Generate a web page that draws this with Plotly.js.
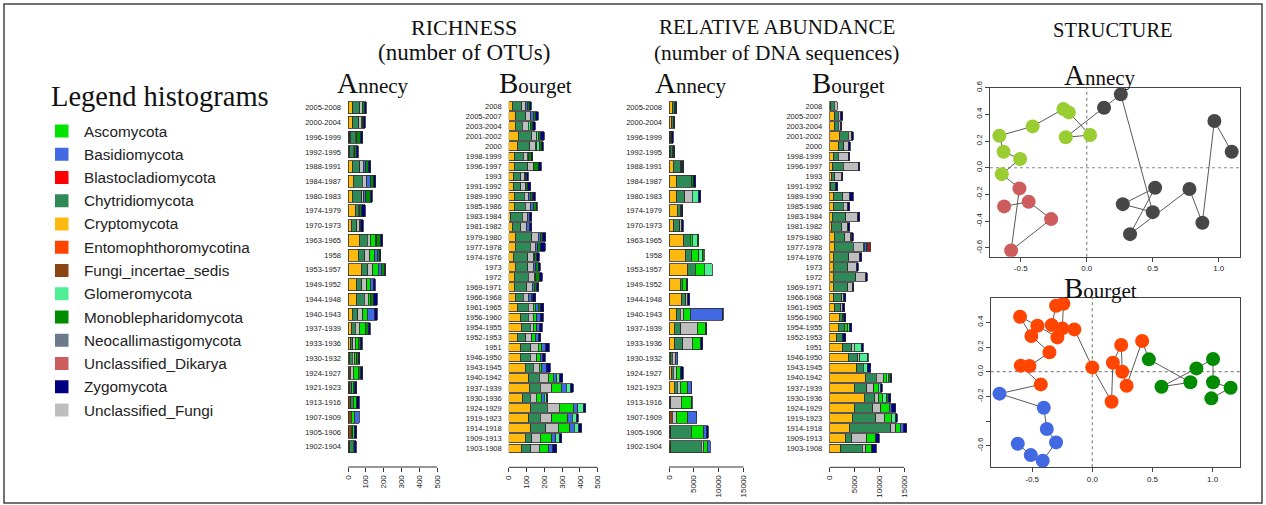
<!DOCTYPE html>
<html><head><meta charset="utf-8">
<script src="https://cdn.plot.ly/plotly-3.0.1.min.js"></script>
<style>html,body{margin:0;padding:0;background:#fff;}#chart{width:1266px;height:505px;}</style>
</head><body><div id="chart"></div>
<script>
// ---------------- categories ----------------
const annecyYears = ['2005-2008','2000-2004','1996-1999','1992-1995','1988-1991','1984-1987','1980-1983','1974-1979','1970-1973','1963-1965','1958','1953-1957','1949-1952','1944-1948','1940-1943','1937-1939','1933-1936','1930-1932','1924-1927','1921-1923','1913-1916','1907-1909','1905-1906','1902-1904'];
const bourgetYears = ['2008','2005-2007','2003-2004','2001-2002','2000','1998-1999','1996-1997','1993','1991-1992','1989-1990','1985-1986','1983-1984','1981-1982','1979-1980','1977-1978','1974-1976','1973','1972','1969-1971','1966-1968','1961-1965','1956-1960','1954-1955','1952-1953','1951','1946-1950','1943-1945','1940-1942','1937-1939','1930-1936','1924-1929','1919-1923','1914-1918','1909-1913','1903-1908'];

// ---------------- legend taxa ----------------
const taxaNames = ['Ascomycota','Basidiomycota','Blastocladiomycota','Chytridiomycota','Cryptomycota','Entomophthoromycotina','Fungi_incertae_sedis','Glomeromycota','Monoblepharidomycota','Neocallimastigomycota','Unclassified_Dikarya','Zygomycota','Unclassified_Fungi'];
const taxaColors = ['#00E400','#4169E1','#FF0000','#2E8B57','#FFB90F','#FF4500','#8B4513','#4EEE94','#008B00','#6C7B8B','#CD5C5C','#000080','#BEBEBE'];
const stackOrder = ['Fungi_incertae_sedis','Cryptomycota','Neocallimastigomycota','Chytridiomycota','Unclassified_Fungi','Ascomycota','Basidiomycota','Glomeromycota','Monoblepharidomycota','Blastocladiomycota','Entomophthoromycotina','Unclassified_Dikarya','Zygomycota'];

// ---------------- richness, Annecy (number of OTUs) ----------------
const richAnnecyFungiIS = [0,0,10,11,0,0,0,0,0,0,0,0,0,0,0,0,0,0,7,11,15,17,17,11];
const richAnnecyCrypto  = [26,26,4,0,24,30,24,41,21,64,58,77,49,49,24,22,15,11,8,0,0,0,0,0];
const richAnnecyChytrid = [40,35,26,19,43,51,52,17,28,45,37,34,28,41,30,19,11,13,0,11,15,0,9,19];
const richAnnecyUnclF   = [14,13,10,9,19,24,13,9,13,15,28,28,28,24,28,22,15,15,15,0,0,0,0,0];
const richAnnecyAsco    = [0,6,0,0,0,0,0,0,0,28,28,32,19,15,26,37,17,10,28,8,19,19,8,4];
const richAnnecyBasidio = [0,0,0,0,13,19,8,0,0,9,13,15,19,0,43,0,0,0,0,9,0,26,0,0];
const richAnnecyMonob   = [15,6,22,8,18,19,30,10,10,22,11,20,0,13,0,13,10,9,13,0,0,0,0,0];
const richAnnecyZygo    = [8,12,10,11,12,14,8,19,14,12,10,7,9,23,13,11,11,9,11,10,15,0,15,11];

// ---------------- richness, Bourget ----------------
const richBourgetCrypto  = [21,39,36,54,51,30,30,26,26,30,30,8,21,39,36,26,36,32,32,36,49,67,73,49,69,64,94,114,116,79,125,114,125,92,73];
const richBourgetChytrid = [52,56,41,75,66,52,77,41,43,58,62,69,47,90,84,81,71,79,69,47,62,43,47,47,54,56,45,58,60,41,92,62,84,37,51];
const richBourgetUnclF   = [22,28,34,28,32,22,32,19,26,26,32,28,34,37,28,32,32,32,34,28,28,28,19,34,43,37,32,54,66,34,67,66,69,47,49];
const richBourgetAsco    = [0,0,0,0,8,0,0,0,0,0,0,0,0,0,0,0,0,9,0,0,9,19,19,19,19,19,15,24,52,28,79,90,66,66,51];
const richBourgetBasidio = [9,15,0,0,0,0,0,6,0,11,15,13,15,13,15,8,13,0,9,15,19,19,17,19,22,15,24,19,28,17,24,26,24,22,24];
const richBourgetGlom    = [0,0,11,8,17,8,0,0,0,0,0,0,0,0,0,0,0,0,0,0,0,0,0,0,0,0,0,19,26,11,32,24,26,21,0];
const richBourgetMonob   = [11,15,13,15,13,15,28,9,12,10,15,0,0,9,13,11,15,22,13,9,9,0,0,0,0,0,0,0,0,0,0,0,0,0,0];
const richBourgetZygo    = [13,13,13,20,8,8,15,9,17,13,7,11,13,21,28,13,9,15,13,17,22,19,13,13,21,13,22,15,15,9,13,9,15,13,22];

// ---------------- relative abundance, Annecy (number of DNA sequences) ----------------
const abundAnnecyFungiIS = [0,0,200,200,0,0,0,0,0,0,0,0,0,0,0,0,0,0,0,0,330,670,400,0];
const abundAnnecyCrypto  = [670,540,0,0,870,1540,1540,1670,1000,2880,3410,3750,2210,2540,1540,1070,1200,400,540,1070,0,0,0,400];
const abundAnnecyChytrid = [400,330,0,500,1470,2880,1670,540,1200,1340,1140,1470,470,870,670,1270,1540,270,330,600,0,0,4020,6030];
const abundAnnecyUnclF   = [0,0,0,0,200,0,1470,0,330,0,0,0,0,330,670,3350,1940,670,540,540,2080,740,0,470];
const abundAnnecyAsco    = [0,0,0,0,0,0,0,0,0,470,1470,1810,740,0,1340,1670,1740,0,940,1540,2010,2340,2480,800];
const abundAnnecyBasidio = [0,0,0,0,0,0,0,0,0,0,0,0,0,0,6500,0,0,400,0,670,0,1810,670,540];
const abundAnnecyGlom    = [0,0,0,0,0,0,1270,0,0,1000,670,1670,0,0,0,0,0,0,0,0,0,0,0,0];
const abundAnnecyMonob   = [250,130,300,300,200,470,0,200,0,330,400,0,0,0,0,0,0,0,0,0,0,0,0,0];
const abundAnnecyZygo    = [220,200,370,200,270,470,400,340,330,0,0,0,330,470,200,200,330,0,540,130,270,0,330,0];

// ---------------- relative abundance, Bourget ----------------
const abundBourgetCrypto  = [270,1140,1140,2140,1940,800,670,470,330,940,800,600,470,1000,1000,800,800,800,800,940,1140,2010,1810,1470,2680,3820,5490,7300,5160,7030,5160,4620,4150,3350,2280];
const abundBourgetChytrid = [740,670,670,1670,1000,1000,2140,670,1000,1740,2010,2680,2010,2140,3820,3150,2880,4550,2880,1540,1140,670,1340,1200,1810,1870,1340,2080,2340,2140,3550,4750,8240,1140,4350];
const abundBourgetUnclF   = [600,470,470,670,870,2010,3010,1340,0,1470,870,2410,1200,1200,2010,2210,1810,1940,940,470,400,0,0,0,540,470,0,1470,1470,800,1670,1670,940,3010,740];
const abundBourgetAsco    = [0,0,0,0,0,0,0,0,0,0,0,0,0,0,200,0,0,0,0,0,0,200,540,0,0,0,0,540,870,740,1670,1470,870,1870,1140];
const abundBourgetBasidio = [0,0,0,0,0,0,0,0,0,0,0,0,0,200,470,0,0,0,0,0,0,0,0,0,0,0,0,0,0,0,470,0,670,0,0];
const abundBourgetGlom    = [0,0,0,0,0,0,0,0,0,0,0,0,0,0,200,0,0,0,0,0,0,0,330,0,1340,1470,800,470,470,800,0,800,0,0,0];
const abundBourgetMonob   = [0,0,0,0,0,0,0,0,0,0,0,0,0,0,0,0,0,0,0,0,0,0,0,0,0,0,0,330,0,330,0,0,0,0,0];
const abundBourgetBlasto  = [0,0,0,0,0,0,0,0,0,0,0,0,0,0,330,0,0,0,0,0,0,0,0,0,0,0,0,0,0,0,0,0,0,0,0];
const abundBourgetDikarya = [0,0,0,0,0,0,0,0,0,0,0,0,0,0,340,0,0,0,0,0,0,0,0,0,0,0,0,0,0,0,0,0,0,0,0];
const abundBourgetZygo    = [0,400,200,330,400,330,330,200,330,670,470,470,470,270,0,330,330,330,330,330,470,470,470,670,470,200,670,330,330,470,800,340,670,670,870];

// ---------------- structure (ordination), trajectory order ----------------
const annecyAxis1 = [1.098,0.967,0.876,0.778,0.328,0.518,0.273,0.5,0.258,0.131,-0.159,0.025,-0.136,-0.177,-0.41,-0.662,-0.63,-0.505,-0.644,-0.51,-0.573,-0.27,-0.44,-0.626];
const annecyAxis2 = [0.12,0.35,-0.413,-0.16,-0.498,-0.15,-0.273,-0.333,0.55,0.45,0.228,0.245,0.415,0.44,0.31,0.24,0.12,0.065,-0.048,-0.155,-0.62,-0.385,-0.255,-0.29];
const annecyCluster = [1,1,1,1,1,1,1,1,1,1,2,2,2,2,2,2,2,2,2,3,3,3,3,3];
const annecyClusterColors = {1:'#474747',2:'#9ACD32',3:'#CD5C5C'};

const bourgetAxis1 = [0.989,1.149,1.003,1.003,0.865,0.575,0.815,0.470,0.414,0.285,0.249,0.240,0.171,0.160,0.0,-0.149,-0.249,-0.240,-0.301,-0.337,-0.290,-0.456,-0.600,-0.506,-0.356,-0.522,-0.594,-0.428,-0.771,-0.403,-0.378,-0.301,-0.412,-0.511,-0.619];
const bourgetAxis2 = [-0.216,-0.130,-0.086,0.103,0.027,-0.122,-0.086,0.100,0.249,-0.114,0.0,0.216,0.073,-0.243,0.035,0.343,0.351,0.551,0.535,0.378,0.278,0.373,0.446,0.289,0.157,0.046,0.049,-0.103,-0.178,-0.292,-0.465,-0.573,-0.722,-0.676,-0.584];
const bourgetCluster = [1,1,1,1,1,1,1,1,2,2,2,2,2,2,2,2,2,2,2,2,2,2,2,2,2,2,2,2,3,3,3,3,3,3,3];
const bourgetClusterColors = {1:'#008B00',2:'#FF4500',3:'#4169E1'};

// ---------------- build ----------------
const W = 1266, H = 505;
const px = x => x / W, py = y => 1 - y / H;
const colorOf = {}; taxaNames.forEach((n,i)=>colorOf[n]=taxaColors[i]);
const SANS = 'Liberation Sans, Arial, sans-serif';
const SERIF = 'Liberation Serif, Times New Roman, serif';

const tables = [
  {cats: annecyYears, xa:'x', ya:'y', width:0.82, data:{
    Fungi_incertae_sedis:richAnnecyFungiIS, Cryptomycota:richAnnecyCrypto, Chytridiomycota:richAnnecyChytrid,
    Unclassified_Fungi:richAnnecyUnclF, Ascomycota:richAnnecyAsco, Basidiomycota:richAnnecyBasidio,
    Monoblepharidomycota:richAnnecyMonob, Zygomycota:richAnnecyZygo}},
  {cats: bourgetYears, xa:'x2', ya:'y2', width:0.85, data:{
    Cryptomycota:richBourgetCrypto, Chytridiomycota:richBourgetChytrid, Unclassified_Fungi:richBourgetUnclF,
    Ascomycota:richBourgetAsco, Basidiomycota:richBourgetBasidio, Glomeromycota:richBourgetGlom,
    Monoblepharidomycota:richBourgetMonob, Zygomycota:richBourgetZygo}},
  {cats: annecyYears, xa:'x3', ya:'y3', width:0.82, data:{
    Fungi_incertae_sedis:abundAnnecyFungiIS, Cryptomycota:abundAnnecyCrypto, Chytridiomycota:abundAnnecyChytrid,
    Unclassified_Fungi:abundAnnecyUnclF, Ascomycota:abundAnnecyAsco, Basidiomycota:abundAnnecyBasidio,
    Glomeromycota:abundAnnecyGlom, Monoblepharidomycota:abundAnnecyMonob, Zygomycota:abundAnnecyZygo}},
  {cats: bourgetYears, xa:'x4', ya:'y4', width:0.85, data:{
    Cryptomycota:abundBourgetCrypto, Chytridiomycota:abundBourgetChytrid, Unclassified_Fungi:abundBourgetUnclF,
    Ascomycota:abundBourgetAsco, Basidiomycota:abundBourgetBasidio, Glomeromycota:abundBourgetGlom,
    Monoblepharidomycota:abundBourgetMonob, Blastocladiomycota:abundBourgetBlasto,
    Unclassified_Dikarya:abundBourgetDikarya, Zygomycota:abundBourgetZygo}}
];

const traces = [];
tables.forEach(t=>{
  stackOrder.forEach(name=>{
    const vals = t.data[name]; if(!vals) return;
    traces.push({type:'bar', orientation:'h', name:name, x: vals.map(v=>v===0?null:v), y:t.cats,
      xaxis:t.xa, yaxis:t.ya, width:t.width, showlegend:false, hoverinfo:'skip',
      marker:{color:colorOf[name], line:{color:'#2a2a2a', width:0.8}}});
  });
});

traces.push({type:'scatter', mode:'lines+markers', x:annecyAxis1, y:annecyAxis2, xaxis:'x5', yaxis:'y5',
  line:{color:'#595959', width:1}, marker:{size:14, color:annecyCluster.map(c=>annecyClusterColors[c])},
  showlegend:false, hoverinfo:'skip'});
traces.push({type:'scatter', mode:'lines+markers', x:bourgetAxis1, y:bourgetAxis2, xaxis:'x6', yaxis:'y6',
  line:{color:'#595959', width:1}, marker:{size:14, color:bourgetCluster.map(c=>bourgetClusterColors[c])},
  showlegend:false, hoverinfo:'skip'});

function catRange(topC, botC, axisY, n){
  const s = (botC - topC)/(n-1);
  return {domain:[py(axisY), py(topC - s/2)], range:[(n-1) + (axisY-botC)/s, -0.5]};
}
const catAxisBase = {type:'category', showgrid:false, zeroline:false, showline:false, ticks:'',
  tickfont:{family:SANS, size:7.5, color:'#222'}, ticklabelstandoff:6, fixedrange:true};
const valAxisBase = {showgrid:false, zeroline:false, showline:false, ticks:'outside', ticklen:4, tickwidth:1,
  tickcolor:'#333', tickangle:-90, tickfont:{family:SANS, size:8, color:'#222'}, tickformat:'d', fixedrange:true};

const rA = catRange(107.7, 446.7, 467, annecyYears.length);
const rB = catRange(106, 448.3, 467.3, bourgetYears.length);

const layout = {
  width:W, height:H, margin:{l:0,r:0,t:0,b:0}, paper_bgcolor:'#fff', plot_bgcolor:'rgba(0,0,0,0)',
  barmode:'stack', showlegend:false,
  xaxis:  Object.assign({}, valAxisBase, {domain:[px(348), px(437)], range:[0,500], dtick:100, anchor:'y'}),
  yaxis:  Object.assign({}, catAxisBase, rA, {anchor:'x'}),
  xaxis2: Object.assign({}, valAxisBase, {domain:[px(508.7), px(597.7)], range:[0,500], dtick:100, anchor:'y2'}),
  yaxis2: Object.assign({}, catAxisBase, rB, {anchor:'x2'}),
  xaxis3: Object.assign({}, valAxisBase, {domain:[px(669), px(743.7)], range:[0,15000], dtick:5000, anchor:'y3'}),
  yaxis3: Object.assign({}, catAxisBase, rA, {anchor:'x3'}),
  xaxis4: Object.assign({}, valAxisBase, {domain:[px(829.3), px(829.3 + 74.7*15700/15000)], range:[0,15700], tickvals:[0,5000,10000,15000], anchor:'y4'}),
  yaxis4: Object.assign({}, catAxisBase, rB, {anchor:'x4'}),
  xaxis5: {domain:[px(990), px(1240)], range:[-0.733,1.161], anchor:'y5', showgrid:false, zeroline:false,
    showline:true, mirror:true, linecolor:'#444', linewidth:1, ticks:'outside', ticklen:4, tickcolor:'#444',
    tickvals:[-0.5,0,0.5,1], ticktext:['-0.5','0.0','0.5','1.0'], tickfont:{family:SANS,size:8,color:'#222'}, fixedrange:true},
  yaxis5: {domain:[py(256.7), py(87.7)], range:[-0.667,0.6], anchor:'x5', showgrid:false, zeroline:false,
    showline:true, mirror:true, linecolor:'#444', linewidth:1, ticks:'outside', ticklen:4, tickcolor:'#444',
    tickvals:[-0.6,-0.4,-0.2,0,0.2,0.4,0.6], ticktext:['-0.6','-0.4','-0.2','0.0','0.2','0.4','0.6'], tickangle:-90,
    tickfont:{family:SANS,size:8,color:'#222'}, fixedrange:true},
  xaxis6: {domain:[px(990.7), px(1240)], range:[-0.844,1.227], anchor:'y6', showgrid:false, zeroline:false,
    showline:true, mirror:true, linecolor:'#444', linewidth:1, ticks:'outside', ticklen:4, tickcolor:'#444',
    tickvals:[-0.5,0,0.5,1], ticktext:['-0.5','0.0','0.5','1.0'], tickfont:{family:SANS,size:8,color:'#222'}, fixedrange:true},
  yaxis6: {domain:[py(467.3), py(297.7)], range:[-0.775,0.6], anchor:'x6', showgrid:false, zeroline:false,
    showline:true, mirror:true, linecolor:'#444', linewidth:1, ticks:'outside', ticklen:4, tickcolor:'#444',
    tickvals:[-0.6,-0.4,-0.2,0,0.2,0.4], ticktext:['-0.6','','-0.2','0.0','0.2','0.4'], tickangle:-90,
    tickfont:{family:SANS,size:8,color:'#222'}, fixedrange:true},
  shapes:[], annotations:[]
};

// axis lines of bar panels (from 0 to the last tick only)
[['x',500,467],['x2',500,467.3],['x3',15000,467],['x4',15000,467.3]].forEach(([xa,mx,yy])=>{
  layout.shapes.push({type:'line', xref:xa, yref:'paper', x0:0, x1:mx, y0:py(yy), y1:py(yy), line:{color:'#333', width:1}});
});
// dotted zero lines in ordination plots
[['x5','y5'],['x6','y6']].forEach(([xa,ya])=>{
  layout.shapes.push({type:'line', xref:xa, yref:ya+' domain', x0:0, x1:0, y0:0, y1:1, line:{color:'#888', width:1.2, dash:'dot'}, layer:'below'});
  layout.shapes.push({type:'line', xref:xa+' domain', yref:ya, x0:0, x1:1, y0:0, y1:0, line:{color:'#888', width:1.2, dash:'dot'}, layer:'below'});
});
// outer frame
layout.shapes.push({type:'rect', xref:'paper', yref:'paper', x0:px(4), x1:px(1262), y0:py(503), y1:py(4), line:{color:'#444', width:1.5}});

// legend (histogram colours)
taxaNames.forEach((n,i)=>{
  const yc = 131 + 23.25*i;
  layout.shapes.push({type:'rect', xref:'paper', yref:'paper', x0:px(55), x1:px(68.5), y0:py(yc+6.5), y1:py(yc-6.5),
    fillcolor:colorOf[n], line:{width:0}});
  layout.annotations.push({xref:'paper', yref:'paper', x:px(82), y:py(yc), xanchor:'left', yanchor:'middle',
    text:n, showarrow:false, font:{family:SANS, size:15.3, color:'#222'}});
});

function txt(t, x, y, size){
  layout.annotations.push({xref:'paper', yref:'paper', x:px(x), y:py(y), xanchor:'center', yanchor:'middle',
    text:t, showarrow:false, font:{family:SERIF, size:size, color:'#111'}});
}
const big = (c, rest) => "<span style='font-size:29px'>"+c+"</span>"+rest;
txt('Legend histograms', 160, 97, 28.5);
txt('RICHNESS', 464, 27, 22);
txt('(number of OTUs)', 464, 53, 23);
txt('RELATIVE ABUNDANCE', 777, 27, 21);
txt('(number of DNA sequences)', 777, 53, 21.4);
txt('STRUCTURE', 1113, 30, 20.5);
txt(big('A','nnecy'), 373, 83, 21);
txt(big('B','ourget'), 535, 83, 21);
txt(big('A','nnecy'), 691, 83, 21);
txt(big('B','ourget'), 848, 83, 21);
txt(big('A','nnecy'), 1100, 75, 21);
txt(big('B','ourget'), 1100, 288, 21);

Plotly.newPlot('chart', traces, layout, {displayModeBar:false, staticPlot:true});
</script>
</body></html>
